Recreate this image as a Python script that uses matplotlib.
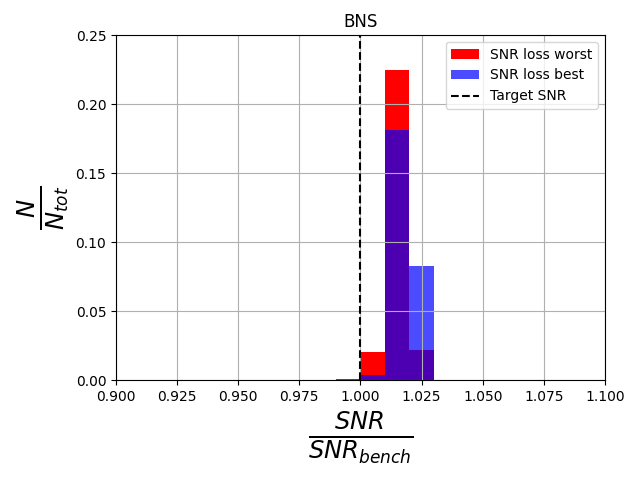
import matplotlib
matplotlib.use("Agg")
import matplotlib.pyplot as plt

bin_edges = [0.99, 1.00, 1.01, 1.02, 1.03]
worst_vals = [0.001, 0.0203, 0.2246, 0.0220]
best_vals = [0.0, 0.0036, 0.1815, 0.0826]
target = 1.0

fig, ax = plt.subplots(figsize=(6.4, 4.8), dpi=100)
ax.hist(bin_edges[:-1], bins=bin_edges, weights=worst_vals, color='red', label='SNR loss worst')
ax.hist(bin_edges[:-1], bins=bin_edges, weights=best_vals, color='blue', alpha=0.7, label='SNR loss best')
ax.axvline(target, color='black', linestyle='--', label='Target SNR')
ax.set_xlim(0.9, 1.1)
ax.set_ylim(0, 0.25)
ax.grid(True)
ax.set_title('BNS')
ax.set_xlabel(r'$\frac{SNR}{SNR_{bench}}$', fontsize=25)
ax.set_ylabel(r'$\frac{N}{N_{tot}}$', fontsize=25)
ax.legend(loc='upper right')
fig.subplots_adjust(left=0.18125, right=0.9453, top=0.927, bottom=0.2083)
fig.savefig('out.png')
